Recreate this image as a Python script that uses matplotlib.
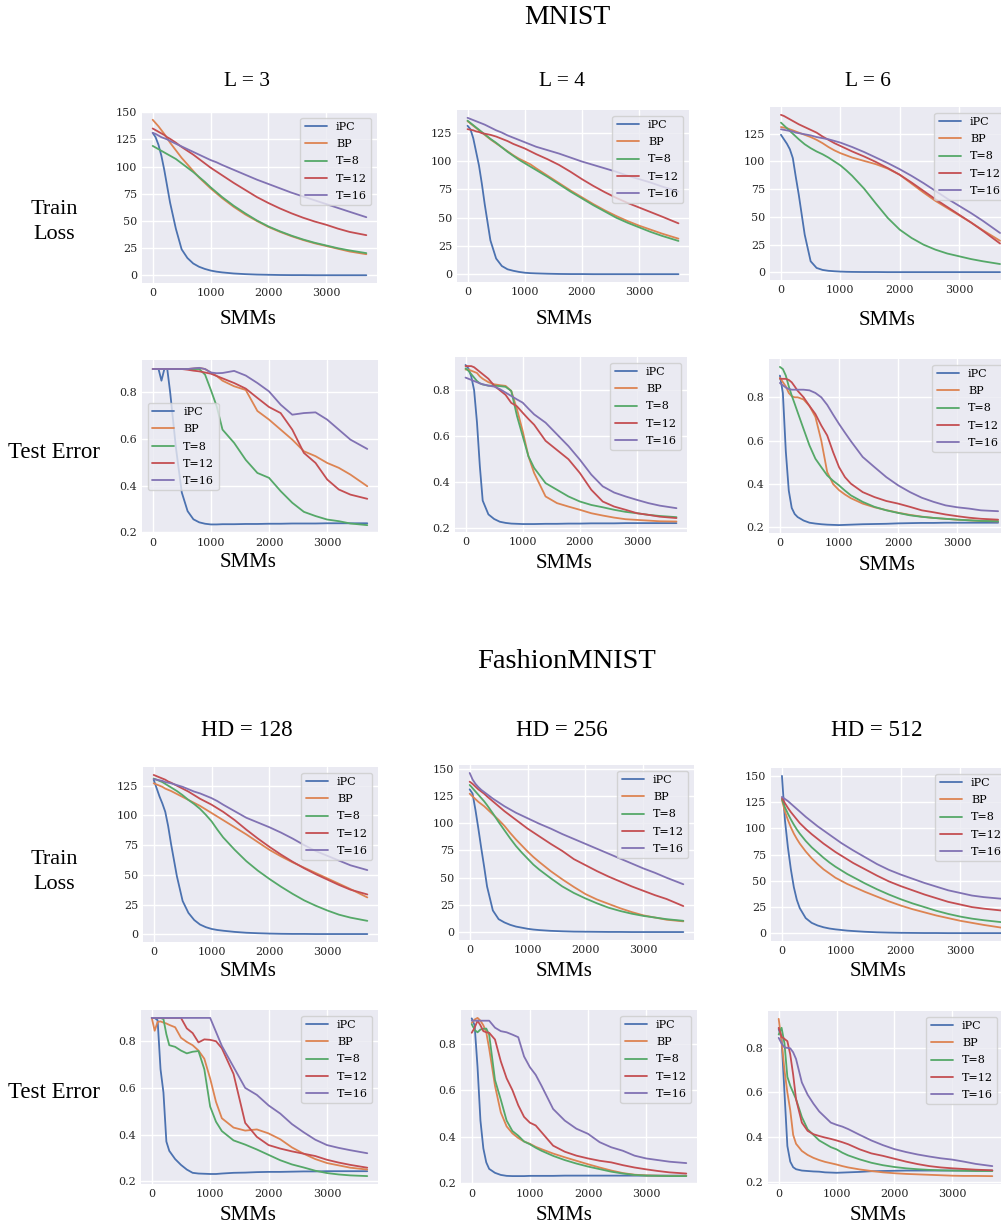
import matplotlib.pyplot as plt
from matplotlib.ticker import MultipleLocator

W, H = 1001, 1226

# training progress (SMMs) shared by every curve
X = [0, 50, 100, 150, 200, 250, 300,
     400, 500, 600, 700, 800, 900, 1000, 1100, 1200,
     1400, 1600, 1800, 2000, 2200, 2400, 2600, 2800, 3000, 3200, 3400, 3690]

METHODS = ["iPC", "BP", "T=8", "T=12", "T=16"]
COLORS = ["#4C72B0", "#DD8452", "#55A868", "#C44E52", "#8172B3"]

# ---- MNIST, train loss ----
mnist_l3_loss = {
    "iPC": [131, 127, 120, 110, 97, 82, 67, 43, 24, 16, 11, 8, 6, 4.5, 3.5, 2.8,
            1.8, 1.2, 0.8, 0.6, 0.4, 0.3, 0.3, 0.2, 0.2, 0.2, 0.2, 0.2],
    "BP": [143, 140, 137, 133.5, 130, 126, 122, 115, 108, 102, 96, 90, 85, 80, 75.5, 71,
           63, 56, 50, 44.5, 40, 36, 32.5, 29.5, 27, 24.5, 22, 19.5],
    "T=8": [119, 117.5, 116, 114.5, 113, 111.5, 110, 107, 103, 99, 95, 90.5, 86, 81, 76.5, 72,
            64, 57, 50.5, 45, 40.5, 36.5, 33, 30, 27.5, 25, 23, 20.5],
    "T=12": [135, 133.5, 132, 130.5, 129, 127, 125.5, 122, 118, 114.5, 111, 107, 103, 99, 95.5, 92,
             85, 78.5, 72, 66.5, 61.5, 57, 53, 49.5, 46.5, 43, 40, 37],
    "T=16": [131, 130, 128.5, 127, 126, 125, 123.5, 121, 118.5, 116, 113.5, 111, 108.5, 106, 104, 101.5,
             97, 92.5, 88, 84, 80, 76, 72.5, 69, 65.5, 62, 58.5, 53.5],
}
mnist_l4_loss = {
    "iPC": [131, 128, 120, 108, 96, 80, 62, 30, 14, 7.4, 4.5, 3.2, 2.2, 1.5, 1.1, 0.9,
            0.6, 0.4, 0.3, 0.3, 0.2, 0.2, 0.2, 0.2, 0.2, 0.2, 0.2, 0.2],
    "BP": [135, 133, 131, 129, 127, 125, 123, 119, 115.5, 112, 108.5, 105, 102, 99.5, 97, 93.5,
           87, 80.5, 74, 68, 62, 56.5, 51.5, 47, 43, 39.5, 36, 31.5],
    "T=8": [135.5, 133.5, 131.5, 129.5, 127.5, 125.5, 123.5, 119.5, 116, 112, 108, 104.5, 101, 98, 95, 92,
            86, 79.5, 73, 67, 61, 55.5, 50, 45.5, 41.5, 37.5, 34, 29.5],
    "T=12": [128, 127.5, 127, 126, 125.5, 124.5, 124, 123, 121.5, 119.5, 117.5, 115, 113, 111, 108.5, 106,
             101.5, 96.5, 90.5, 84, 78, 72.5, 67.5, 63, 59, 55, 51, 45],
    "T=16": [138, 137, 136, 135, 134, 133, 132, 129.5, 127, 125, 122.5, 120.5, 118.5, 116.5, 114.5, 112.5,
             109.5, 106.5, 103, 99.5, 96.5, 93.5, 90.5, 87, 84, 81, 77.5, 73],
}
mnist_l6_loss = {
    "iPC": [124, 120, 116, 111, 103, 86, 70, 34, 10, 4, 2.2, 1.4, 1.0, 0.7, 0.5, 0.4,
            0.3, 0.3, 0.2, 0.2, 0.2, 0.2, 0.2, 0.2, 0.2, 0.2, 0.2, 0.2],
    "BP": [131, 130.5, 130, 129, 128, 127, 126, 124, 122, 119.5, 116.5, 113, 110, 107.5, 105.5, 103.5,
           100.5, 97.5, 93.5, 88, 80, 72, 64.5, 58, 51.5, 45, 38, 28.5],
    "T=8": [135, 132.5, 130, 127.5, 125, 122.5, 120, 115.5, 112, 109, 106.5, 103.5, 100, 96.5, 92, 87,
            75.5, 62, 49, 38.5, 31, 25, 20.5, 17, 14.5, 12, 10, 7.5],
    "T=12": [142, 141, 139.5, 138, 136.5, 135, 133.5, 131, 128.5, 126, 122.5, 119.5, 116.5, 114, 111.5, 109,
             104.5, 99.5, 94, 88, 81, 73.5, 66, 59, 52, 45, 37.5, 26],
    "T=16": [129, 128.5, 128, 127.5, 127, 126, 125.5, 124.5, 123.5, 122, 121, 120, 118.5, 117, 115, 113,
             108.5, 103.5, 98.5, 93, 87, 80.5, 73.5, 66.5, 60, 53.5, 46.5, 35.5],
}

# ---- MNIST, test error ----
mnist_l3_err = {
    "iPC": [0.9, 0.9, 0.9, 0.85, 0.9, 0.9, 0.8, 0.56, 0.37, 0.29, 0.255, 0.242, 0.236, 0.233, 0.233, 0.234,
            0.234, 0.235, 0.235, 0.236, 0.236, 0.237, 0.237, 0.237, 0.238, 0.238, 0.238, 0.238],
    "BP": [0.9, 0.9, 0.9, 0.9, 0.9, 0.9, 0.9, 0.9, 0.9, 0.9, 0.902, 0.905, 0.9, 0.885, 0.87, 0.85,
           0.826, 0.81, 0.72, 0.683, 0.64, 0.597, 0.547, 0.526, 0.497, 0.476, 0.447, 0.397],
    "T=8": [0.9, 0.9, 0.9, 0.9, 0.9, 0.9, 0.9, 0.9, 0.9, 0.9, 0.9, 0.9, 0.876, 0.81, 0.74, 0.64,
            0.583, 0.51, 0.454, 0.433, 0.376, 0.326, 0.287, 0.269, 0.254, 0.247, 0.237, 0.23],
    "T=12": [0.9, 0.9, 0.9, 0.9, 0.9, 0.9, 0.9, 0.9, 0.9, 0.897, 0.893, 0.89, 0.885, 0.88, 0.87, 0.86,
             0.84, 0.816, 0.776, 0.737, 0.711, 0.64, 0.54, 0.497, 0.426, 0.383, 0.361, 0.343],
    "T=16": [0.9, 0.9, 0.9, 0.9, 0.9, 0.9, 0.9, 0.9, 0.9, 0.9, 0.903, 0.905, 0.9, 0.885, 0.882, 0.883,
             0.892, 0.872, 0.84, 0.804, 0.747, 0.704, 0.711, 0.714, 0.683, 0.64, 0.597, 0.557],
}
mnist_l4_err = {
    "iPC": [0.91, 0.895, 0.86, 0.8, 0.66, 0.47, 0.32, 0.26, 0.24, 0.228, 0.223, 0.22, 0.219, 0.218, 0.218, 0.218,
            0.219, 0.219, 0.22, 0.22, 0.221, 0.221, 0.221, 0.222, 0.222, 0.222, 0.222, 0.222],
    "BP": [0.89, 0.89, 0.885, 0.88, 0.875, 0.86, 0.85, 0.835, 0.826, 0.822, 0.819, 0.797, 0.717, 0.622, 0.513, 0.44,
           0.338, 0.309, 0.294, 0.28, 0.265, 0.255, 0.246, 0.239, 0.236, 0.233, 0.23, 0.229],
    "T=8": [0.895, 0.885, 0.87, 0.855, 0.84, 0.83, 0.825, 0.82, 0.82, 0.818, 0.815, 0.797, 0.688, 0.6, 0.513, 0.462,
            0.396, 0.367, 0.338, 0.316, 0.301, 0.291, 0.28, 0.271, 0.265, 0.258, 0.253, 0.248],
    "T=12": [0.905, 0.905, 0.905, 0.9, 0.89, 0.88, 0.87, 0.85, 0.82, 0.8, 0.78, 0.745, 0.73, 0.702, 0.675, 0.65,
             0.58, 0.54, 0.5, 0.44, 0.367, 0.316, 0.294, 0.28, 0.265, 0.258, 0.25, 0.244],
    "T=16": [0.855, 0.85, 0.845, 0.84, 0.835, 0.83, 0.826, 0.82, 0.816, 0.805, 0.79, 0.775, 0.76, 0.746, 0.72, 0.695,
             0.659, 0.608, 0.557, 0.498, 0.433, 0.382, 0.355, 0.338, 0.323, 0.309, 0.298, 0.287],
}
mnist_l6_err = {
    "iPC": [0.9, 0.82, 0.55, 0.37, 0.29, 0.262, 0.248, 0.232, 0.222, 0.218, 0.215, 0.213, 0.212, 0.211, 0.212, 0.213,
            0.215, 0.216, 0.217, 0.219, 0.22, 0.221, 0.221, 0.222, 0.222, 0.222, 0.222, 0.222],
    "BP": [0.89, 0.87, 0.85, 0.82, 0.805, 0.8, 0.8, 0.79, 0.76, 0.71, 0.6, 0.455, 0.4, 0.372, 0.352, 0.335,
           0.31, 0.293, 0.28, 0.268, 0.258, 0.25, 0.244, 0.24, 0.236, 0.233, 0.23, 0.228],
    "T=8": [0.94, 0.93, 0.9, 0.85, 0.808, 0.77, 0.731, 0.654, 0.578, 0.517, 0.478, 0.44, 0.415, 0.394, 0.37, 0.348,
            0.318, 0.295, 0.279, 0.267, 0.256, 0.249, 0.244, 0.24, 0.236, 0.233, 0.23, 0.229],
    "T=12": [0.885, 0.885, 0.885, 0.88, 0.869, 0.85, 0.83, 0.8, 0.76, 0.723, 0.67, 0.624, 0.547, 0.478, 0.432, 0.402,
             0.363, 0.34, 0.322, 0.31, 0.295, 0.279, 0.27, 0.26, 0.252, 0.245, 0.24, 0.236],
    "T=16": [0.866, 0.855, 0.845, 0.838, 0.835, 0.835, 0.835, 0.835, 0.832, 0.82, 0.8, 0.765, 0.72, 0.677, 0.637, 0.598,
             0.525, 0.478, 0.432, 0.394, 0.363, 0.337, 0.318, 0.302, 0.293, 0.287, 0.279, 0.275],
}

# ---- FashionMNIST, train loss ----
fmnist_hd128_loss = {
    "iPC": [130, 123, 116, 110, 103, 91, 76, 49, 28, 18, 12, 8.2, 6, 4.5, 3.6, 3,
            2, 1.3, 0.9, 0.6, 0.4, 0.3, 0.3, 0.2, 0.2, 0.2, 0.2, 0.2],
    "BP": [127, 126, 125, 124, 122.5, 121.5, 120.5, 118, 115.5, 113, 110.5, 108, 105, 102, 99, 96,
           90, 84, 77.5, 71, 65.5, 60.5, 56, 51.5, 47, 42.5, 38, 31],
    "T=8": [131, 130, 129, 128, 126.5, 125, 123.5, 120.5, 117, 113, 109.5, 105.5, 100.5, 95, 88, 81.5,
            71, 61.5, 53.5, 46.5, 40, 34, 28.5, 24, 20, 16.5, 14, 11.3],
    "T=12": [134, 133, 132, 131, 130, 128.5, 127.5, 125, 122.5, 120, 117, 114, 111.5, 109, 106, 103,
             96, 88, 80.5, 73.5, 67, 61, 55.5, 50.5, 46, 41.5, 37.5, 33.5],
    "T=16": [130.5, 130, 129.5, 129, 128, 127.5, 127, 125.5, 124, 122, 120, 118.5, 116.5, 114.5, 112, 109,
             103.5, 98, 94, 90, 85.5, 80.5, 75, 70, 66, 62, 58, 54],
}
fmnist_hd256_loss = {
    "iPC": [131, 127, 112, 95, 77, 60, 42, 20, 12, 9, 6.8, 5.2, 4.2, 3.2, 2.5, 2,
            1.3, 0.9, 0.6, 0.5, 0.4, 0.3, 0.3, 0.2, 0.2, 0.2, 0.2, 0.2],
    "BP": [127, 124.5, 122, 119.5, 117.5, 115.5, 113, 108, 103, 97.5, 91, 85, 79.5, 74, 69, 64.5,
           56, 48.5, 41.5, 35, 30, 26, 22, 18.5, 15.5, 13.5, 11.5, 10],
    "T=8": [135, 132, 129, 126, 123, 120, 116.5, 109, 101, 93.5, 86, 79, 73, 67.5, 62, 57.5,
            49.5, 42, 36, 31, 26.5, 22.5, 19.5, 17, 15, 13.5, 12, 10.5],
    "T=12": [138, 136, 133.5, 131, 129, 127, 124.5, 120, 115.5, 111, 107, 103, 99, 95, 91.5, 88,
             81, 74.5, 67, 61.5, 56, 51, 46.5, 42, 38, 34, 30.5, 24],
    "T=16": [146, 140, 136, 133, 130.5, 128.5, 126.5, 122.5, 119, 115.5, 112.5, 109.5, 107, 104.5, 102, 99.5,
             95, 90, 85.5, 81, 76.5, 72, 67.5, 63, 58.5, 54.5, 50, 44],
}
fmnist_hd512_loss = {
    "iPC": [150, 108, 82, 61, 44, 32, 24, 14.5, 10, 7.5, 5.8, 4.6, 3.8, 3.2, 2.6, 2.2,
            1.5, 1, 0.7, 0.5, 0.4, 0.3, 0.3, 0.2, 0.2, 0.2, 0.2, 0.2],
    "BP": [127, 116, 108, 101, 95, 90, 85.5, 78, 71.5, 66, 61, 57, 53, 50, 47, 44.5,
           39.5, 35, 30.5, 26.5, 23, 20, 17, 14.5, 12, 10, 8, 5.5],
    "T=8": [128, 120, 114, 108.5, 103.5, 99, 95, 88, 82, 77, 72, 67.5, 63.5, 60, 56.5, 53.5,
            47.5, 42, 37, 32.5, 28.5, 25, 21.5, 18.5, 16, 14, 12.5, 10.7],
    "T=12": [129, 124, 119.5, 115.5, 112, 108.5, 105, 99.5, 94.5, 90, 85.5, 81.5, 77.5, 74, 70.5, 67,
             61, 55, 49.5, 45, 41, 37, 33.5, 30, 27.5, 25, 23.5, 21.8],
    "T=16": [130, 128, 126, 123.5, 121, 118.5, 116, 111, 106.5, 102, 98, 94, 90, 86, 82.5, 79,
             72.5, 66, 60.5, 56, 52, 48, 44.5, 41, 38.5, 36, 34.5, 33],
}

# ---- FashionMNIST, test error ----
fmnist_hd128_err = {
    "iPC": [0.9, 0.9, 0.89, 0.68, 0.58, 0.37, 0.33, 0.295, 0.27, 0.25, 0.236, 0.233, 0.232, 0.231, 0.231, 0.233,
            0.236, 0.237, 0.239, 0.24, 0.24, 0.241, 0.242, 0.242, 0.243, 0.243, 0.243, 0.243],
    "BP": [0.9, 0.845, 0.883, 0.885, 0.88, 0.876, 0.87, 0.86, 0.815, 0.797, 0.783, 0.76, 0.725, 0.64, 0.54, 0.47,
           0.43, 0.417, 0.422, 0.405, 0.38, 0.345, 0.318, 0.295, 0.278, 0.268, 0.258, 0.25],
    "T=8": [0.9, 0.9, 0.9, 0.9, 0.895, 0.83, 0.783, 0.776, 0.76, 0.748, 0.755, 0.758, 0.68, 0.52, 0.455, 0.415,
            0.375, 0.357, 0.336, 0.313, 0.29, 0.272, 0.259, 0.245, 0.235, 0.229, 0.225, 0.222],
    "T=12": [0.9, 0.9, 0.9, 0.9, 0.9, 0.9, 0.9, 0.9, 0.9, 0.855, 0.835, 0.795, 0.808, 0.806, 0.8, 0.77,
             0.66, 0.45, 0.39, 0.355, 0.34, 0.328, 0.318, 0.308, 0.292, 0.28, 0.27, 0.258],
    "T=16": [0.9, 0.9, 0.9, 0.9, 0.9, 0.9, 0.9, 0.9, 0.9, 0.9, 0.9, 0.9, 0.9, 0.9, 0.84, 0.78,
             0.69, 0.6, 0.57, 0.525, 0.49, 0.445, 0.41, 0.378, 0.355, 0.343, 0.333, 0.32],
}
fmnist_hd256_err = {
    "iPC": [0.91, 0.88, 0.7, 0.47, 0.35, 0.29, 0.262, 0.245, 0.236, 0.232, 0.231, 0.231, 0.231, 0.232, 0.232, 0.232,
            0.232, 0.233, 0.233, 0.233, 0.233, 0.233, 0.233, 0.233, 0.233, 0.233, 0.233, 0.233],
    "BP": [0.89, 0.905, 0.912, 0.9, 0.88, 0.85, 0.78, 0.62, 0.505, 0.445, 0.415, 0.395, 0.38, 0.37, 0.357, 0.347,
           0.328, 0.312, 0.297, 0.282, 0.268, 0.255, 0.244, 0.237, 0.234, 0.233, 0.232, 0.232],
    "T=8": [0.885, 0.86, 0.85, 0.862, 0.865, 0.866, 0.84, 0.645, 0.56, 0.47, 0.425, 0.405, 0.38, 0.368, 0.353, 0.34,
            0.318, 0.3, 0.285, 0.272, 0.261, 0.25, 0.242, 0.236, 0.233, 0.232, 0.231, 0.231],
    "T=12": [0.848, 0.87, 0.9, 0.88, 0.855, 0.85, 0.848, 0.819, 0.725, 0.652, 0.601, 0.536, 0.486, 0.461, 0.449, 0.42,
             0.362, 0.336, 0.319, 0.307, 0.297, 0.29, 0.278, 0.268, 0.26, 0.253, 0.247, 0.242],
    "T=16": [0.9, 0.9, 0.9, 0.9, 0.9, 0.9, 0.9, 0.87, 0.855, 0.85, 0.84, 0.829, 0.746, 0.7, 0.667, 0.62,
             0.52, 0.47, 0.435, 0.413, 0.377, 0.355, 0.34, 0.319, 0.307, 0.3, 0.293, 0.287],
}
fmnist_hd512_err = {
    "iPC": [0.885, 0.84, 0.6, 0.36, 0.29, 0.265, 0.256, 0.25, 0.248, 0.246, 0.245, 0.242, 0.241, 0.24, 0.241, 0.242,
            0.244, 0.247, 0.248, 0.249, 0.25, 0.25, 0.25, 0.25, 0.25, 0.25, 0.25, 0.25],
    "BP": [0.93, 0.83, 0.7, 0.6, 0.52, 0.41, 0.37, 0.338, 0.32, 0.307, 0.297, 0.289, 0.283, 0.277, 0.27, 0.264,
           0.255, 0.248, 0.242, 0.238, 0.235, 0.233, 0.231, 0.229, 0.227, 0.226, 0.226, 0.225],
    "T=8": [0.86, 0.89, 0.82, 0.67, 0.63, 0.6, 0.57, 0.49, 0.435, 0.41, 0.385, 0.37, 0.355, 0.345, 0.33, 0.318,
            0.3, 0.285, 0.274, 0.266, 0.26, 0.256, 0.253, 0.251, 0.25, 0.249, 0.248, 0.248],
    "T=12": [0.89, 0.85, 0.84, 0.83, 0.77, 0.68, 0.57, 0.465, 0.428, 0.413, 0.405, 0.398, 0.392, 0.385, 0.377, 0.368,
             0.345, 0.327, 0.316, 0.303, 0.29, 0.279, 0.27, 0.264, 0.26, 0.257, 0.254, 0.251],
    "T=16": [0.845, 0.82, 0.802, 0.8, 0.798, 0.78, 0.75, 0.645, 0.59, 0.55, 0.515, 0.49, 0.465, 0.455, 0.447, 0.436,
             0.41, 0.385, 0.364, 0.346, 0.333, 0.322, 0.313, 0.305, 0.299, 0.29, 0.28, 0.27],
}

# ---- style (seaborn darkgrid look) ----
plt.rcParams.update({
    "axes.facecolor": "#EAEAF2",
    "axes.edgecolor": "white",
    "axes.grid": True,
    "axes.axisbelow": True,
    "grid.color": "white",
    "grid.linewidth": 1.0,
    "xtick.major.size": 0,
    "ytick.major.size": 0,
    "xtick.color": ".15",
    "ytick.color": ".15",
    "font.family": "DejaVu Serif",
    "xtick.labelsize": 8,
    "ytick.labelsize": 8,
    "legend.fontsize": 8,
    "legend.labelspacing": 0.65,
    "lines.solid_capstyle": "round",
})

SERIF = "Liberation Serif"

fig = plt.figure(figsize=(W / 100, H / 100), dpi=100)


def add_panel(box, series, loc, ystep):
    x0, y0, x1, y1 = box
    ax = fig.add_axes([x0 / W, 1 - y1 / H, (x1 - x0) / W, (y1 - y0) / H])
    for name, color in zip(METHODS, COLORS):
        ax.plot(X, series[name], color=color, lw=1.3, label=name)
    for s in ax.spines.values():
        s.set_visible(False)
    ax.xaxis.set_major_locator(MultipleLocator(1000))
    ax.yaxis.set_major_locator(MultipleLocator(ystep))
    ax.legend(loc=loc, frameon=True, facecolor="#EAEAF2", edgecolor="0.8",
              framealpha=0.8, fancybox=True)
    return ax


# pixel boxes (left, top, right, bottom) of each panel
panels = [
    ((142, 112, 377, 283), mnist_l3_loss, "upper right", 25),
    ((457, 110, 689, 282), mnist_l4_loss, "upper right", 25),
    ((770, 107, 1011, 280), mnist_l6_loss, "upper right", 25),
    ((142, 360, 378, 533), mnist_l3_err, "center left", 0.2),
    ((455, 357, 687, 532), mnist_l4_err, "upper right", 0.2),
    ((769, 359, 1009, 533), mnist_l6_err, "upper right", 0.2),
    ((143, 767, 378, 942), fmnist_hd128_loss, "upper right", 25),
    ((459, 765, 694, 940), fmnist_hd256_loss, "upper right", 25),
    ((771, 768, 1012, 941), fmnist_hd512_loss, "upper right", 25),
    ((141, 1010, 378, 1184), fmnist_hd128_err, "upper right", 0.2),
    ((461, 1010, 697, 1184), fmnist_hd256_err, "upper right", 0.2),
    ((768, 1011, 1003, 1184), fmnist_hd512_err, "upper right", 0.2),
]
for box, series, loc, ystep in panels:
    add_panel(box, series, loc, ystep)


def put(x, y, s, size, spacing=1.2):
    fig.text(x / W, 1 - y / H, s, ha="center", va="center", linespacing=spacing,
             family=SERIF, fontsize=size, color="black")


put(567, 18, "MNIST", 20)
put(567, 662, "FashionMNIST", 20.5)
for x, s in zip([247, 562, 868], ["L = 3", "L = 4", "L = 6"]):
    put(x, 81, s, 15.5)
for x, s in zip([247, 562, 877], ["HD = 128", "HD = 256", "HD = 512"]):
    put(x, 730, s, 16.5)
for y in [222, 872]:
    put(54, y, "Train\nLoss", 16, spacing=1.45)
for y in [452, 1092]:
    put(54, y, "Test Error", 16.5)

smm_pos = [(248, 320), (564, 320), (887, 321),
           (248, 562), (564, 563), (887, 565),
           (248, 972), (564, 972), (878, 972),
           (248, 1215), (564, 1215), (878, 1215)]
for x, y in smm_pos:
    put(x, y, "SMMs", 15)

fig.savefig("out.png", dpi=100)
